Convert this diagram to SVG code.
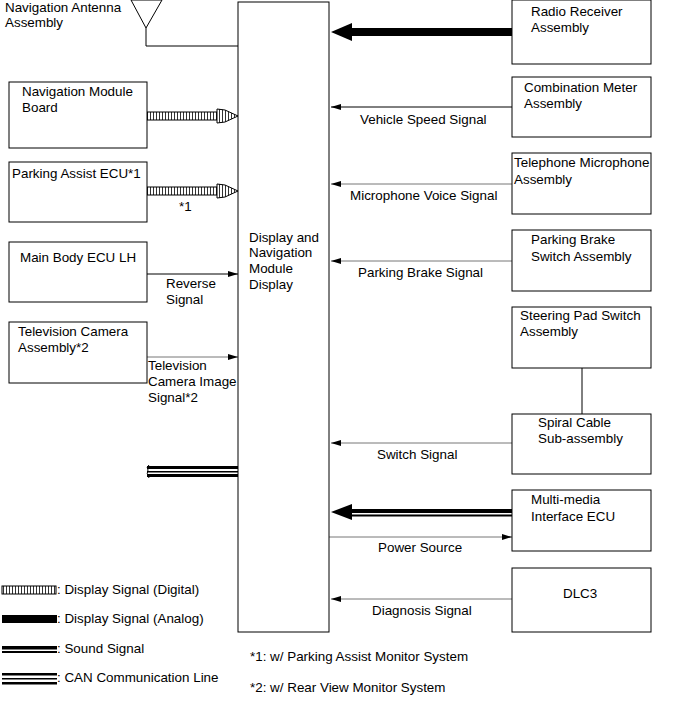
<svg xmlns="http://www.w3.org/2000/svg" width="677" height="724" viewBox="0 0 677 724">
<style>
text{font-family:"Liberation Sans",Arial,sans-serif;font-size:13.4px;fill:#000}
.box{fill:#fff;stroke:#000;stroke-width:1}
.ln{stroke:#000;stroke-width:1;fill:none}
.gl{stroke:#777;stroke-width:1;fill:none}
</style>
<defs>
<pattern id="hatch" width="3" height="20" patternUnits="userSpaceOnUse"><rect width="3" height="20" fill="#fff"/><rect width="1" height="20" fill="#333"/></pattern>
<marker id="ah" viewBox="0 0 10 6" refX="10" refY="3" markerWidth="10" markerHeight="6" markerUnits="userSpaceOnUse" orient="auto"><path d="M0,0L10,3L0,6z" fill="#000"/></marker>
</defs>
<rect width="677" height="724" fill="#fff"/>

<g id="connectors">
<path class="ln" d="M146,28V46H238"/>
<rect x="147" y="112" width="70" height="8" fill="url(#hatch)" stroke="#000" stroke-width="1"/>
<polygon points="217,109 225,110 238,116 225,122 217,123" fill="url(#hatch)" stroke="#000" stroke-width="1"/>
<rect x="147" y="187" width="70" height="8" fill="url(#hatch)" stroke="#000" stroke-width="1"/>
<polygon points="217,184 225,185 238,191 225,197 217,198" fill="url(#hatch)" stroke="#000" stroke-width="1"/>
<line class="ln" x1="147" y1="274" x2="238" y2="274" marker-end="url(#ah)"/>
<line class="gl" x1="147" y1="357" x2="238" y2="357" marker-end="url(#ah)"/>
<rect x="147" y="466" width="91" height="3" fill="#000"/>
<rect x="147" y="471" width="91" height="1.5" fill="#000"/>
<rect x="147" y="474" width="91" height="3" fill="#000"/>
<path class="ln" d="M149,465Q146,467 148,470Q146,473 149,478"/>
<line x1="350" y1="32" x2="512" y2="32" stroke="#000" stroke-width="8"/>
<polygon points="331,32 352,23 352,41" fill="#000"/>
<line class="ln" x1="512" y1="107" x2="331" y2="107" marker-end="url(#ah)"/>
<line class="gl" x1="512" y1="184" x2="331" y2="184" marker-end="url(#ah)"/>
<line class="gl" x1="512" y1="261" x2="331" y2="261" marker-end="url(#ah)"/>
<line class="gl" x1="512" y1="443" x2="331" y2="443" marker-end="url(#ah)"/>
<line class="gl" x1="512" y1="599" x2="331" y2="599" marker-end="url(#ah)"/>
<rect x="348" y="509" width="164" height="4" fill="#000"/>
<rect x="348" y="514.5" width="164" height="2" fill="#000"/>
<polygon points="331,512 352,504 352,520" fill="#000"/>
<line class="gl" x1="329" y1="537" x2="512" y2="537" marker-end="url(#ah)"/>
<line class="ln" x1="582" y1="368" x2="582" y2="414"/>
</g>

<g id="antenna">
<polygon points="131,0 162,0 146,28" fill="none" stroke="#000"/>
<text x="5" y="12">Navigation Antenna</text>
<text x="5" y="27">Assembly</text>
</g>

<g id="display">
<rect class="box" x="238" y="2" width="91" height="630"/>
<text x="249" y="242">Display and</text>
<text x="249" y="257">Navigation</text>
<text x="249" y="273">Module</text>
<text x="249" y="289">Display</text>
</g>

<g id="nav-module"><rect class="box" x="9" y="82" width="138" height="66"/><text x="22" y="96">Navigation Module</text><text x="22" y="112">Board</text></g>
<g id="parking-assist"><rect class="box" x="9" y="162" width="138" height="60"/><text x="12" y="178">Parking Assist ECU*1</text></g>
<text x="179" y="211">*1</text>
<g id="main-body"><rect class="box" x="9" y="242" width="138" height="60"/><text x="20" y="262">Main Body ECU LH</text></g>
<text x="166" y="288">Reverse</text><text x="166" y="304">Signal</text>
<g id="tv-camera"><rect class="box" x="9" y="322" width="138" height="61"/><text x="18" y="336">Television Camera</text><text x="18" y="352">Assembly*2</text></g>
<text x="148" y="370">Television</text><text x="148" y="386">Camera Image</text><text x="148" y="402">Signal*2</text>

<g id="radio"><rect class="box" x="512" y="0" width="139" height="64"/><text x="531" y="16">Radio Receiver</text><text x="531" y="32">Assembly</text></g>
<g id="combination-meter"><rect class="box" x="512" y="77" width="139" height="60"/><text x="524" y="92">Combination Meter</text><text x="524" y="108">Assembly</text></g>
<text x="360" y="124">Vehicle Speed Signal</text>
<g id="telephone"><rect class="box" x="512" y="153" width="139" height="61"/><text x="514" y="167">Telephone Microphone</text><text x="514" y="184">Assembly</text></g>
<text x="350" y="200">Microphone Voice Signal</text>
<g id="parking-brake"><rect class="box" x="512" y="230" width="139" height="61"/><text x="531" y="244">Parking Brake</text><text x="531" y="261">Switch Assembly</text></g>
<text x="358" y="277">Parking Brake Signal</text>
<g id="steering-pad"><rect class="box" x="512" y="307" width="139" height="61"/><text x="520" y="320">Steering Pad Switch</text><text x="520" y="336">Assembly</text></g>
<g id="spiral-cable"><rect class="box" x="512" y="414" width="139" height="60"/><text x="538" y="427">Spiral Cable</text><text x="538" y="443">Sub-assembly</text></g>
<text x="377" y="459">Switch Signal</text>
<g id="multimedia"><rect class="box" x="512" y="490" width="139" height="61"/><text x="531" y="504">Multi-media</text><text x="531" y="521">Interface ECU</text></g>
<text x="378" y="552">Power Source</text>
<g id="dlc3"><rect class="box" x="512" y="568" width="139" height="64"/><text x="563" y="598">DLC3</text></g>
<text x="372" y="615">Diagnosis Signal</text>

<g id="legend">
<rect x="2" y="586" width="54" height="8" fill="url(#hatch)" stroke="#000" stroke-width="1"/>
<text x="57" y="594">: Display Signal (Digital)</text>
<rect x="2" y="615" width="55" height="8" fill="#000"/>
<text x="57" y="623">: Display Signal (Analog)</text>
<rect x="2" y="646" width="55" height="3.5" fill="#000"/>
<rect x="2" y="651" width="55" height="2" fill="#000"/>
<text x="57" y="653">: Sound Signal</text>
<rect x="2" y="673" width="55" height="2.5" fill="#000"/>
<rect x="2" y="678" width="55" height="1.5" fill="#000"/>
<rect x="2" y="682" width="55" height="2.5" fill="#000"/>
<text x="57" y="682">: CAN Communication Line</text>
</g>
<text x="250" y="661">*1: w/ Parking Assist Monitor System</text>
<text x="250" y="692">*2: w/ Rear View Monitor System</text>
</svg>
